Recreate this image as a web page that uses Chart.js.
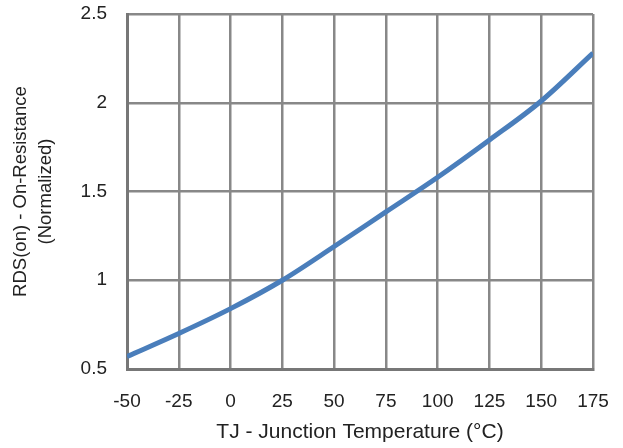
<!DOCTYPE html>
<html>
<head>
<meta charset="utf-8">
<script src="https://cdn.jsdelivr.net/npm/chart.js@4/dist/chart.umd.min.js"></script>
<style>
  html, body { margin: 0; padding: 0; background: #fff; }
  #wrap { width: 623px; height: 448px; }
</style>
</head>
<body>
<div id="wrap"><canvas id="rdsChart"></canvas></div>
<script>
// junction temperature (°C) and normalized on-resistance
const temps = [-50, -25, 0, 25, 50, 75, 100, 125, 150, 175];
const rdsOn = [0.57, 0.70, 0.84, 1.0, 1.19, 1.385, 1.58, 1.79, 2.01, 2.28];

const xTitle = "TJ - Junction Temperature (°C)";
const yTitle = ["RDS(on) - On-Resistance", "(Normalized)"];

const points = temps.map((t, i) => ({ x: t, y: rdsOn[i] }));

const txt = "#222";
const fam = "'Liberation Sans', Arial, sans-serif";
const tickFont = { family: fam, size: 19 };

new Chart(document.getElementById("rdsChart"), {
    type: "line",
    data: {
        datasets: [
            {
                data: points,
                borderColor: "#4a7ebb",
                borderWidth: 5,
                pointRadius: 0,
                tension: 0.4,
                cubicInterpolationMode: "monotone",
                fill: false
            }
        ]
    },
    options: {
        responsive: true,
        maintainAspectRatio: false,
        animation: false,
        layout: { padding: { top: 14, right: 30, left: 0, bottom: 0 } },
        plugins: { legend: { display: false }, tooltip: { enabled: false } },
        scales: {
            x: {
                type: "linear",
                min: -50,
                max: 175,
                ticks: { stepSize: 25, color: txt, font: tickFont, padding: 21, maxRotation: 0 },
                grid: { color: "#888", lineWidth: 2.5, drawTicks: false },
                border: { color: "#777", width: 3 },
                title: { display: true, text: xTitle, color: txt, font: { family: fam, size: 21 }, padding: { top: 4, bottom: 3 } },
                afterFit: (s) => { s.height = 79; s.paddingLeft = 0; s.paddingRight = 0; }
            },
            y: {
                min: 0.5,
                max: 2.5,
                ticks: { stepSize: 0.5, color: txt, font: tickFont, padding: 20, callback: (v) => String(v) },
                grid: { color: "#888", lineWidth: 2.5, drawTicks: false },
                border: { color: "#777", width: 3 },
                title: { display: true, text: yTitle, color: txt, font: { family: fam, size: 18.5, lineHeight: 1.35 }, padding: { top: 8, bottom: 0 } },
                afterFit: (s) => { s.width = 127; s.paddingTop = 0; s.paddingBottom = 0; }
            }
        }
    }
});
</script>
</body>
</html>
